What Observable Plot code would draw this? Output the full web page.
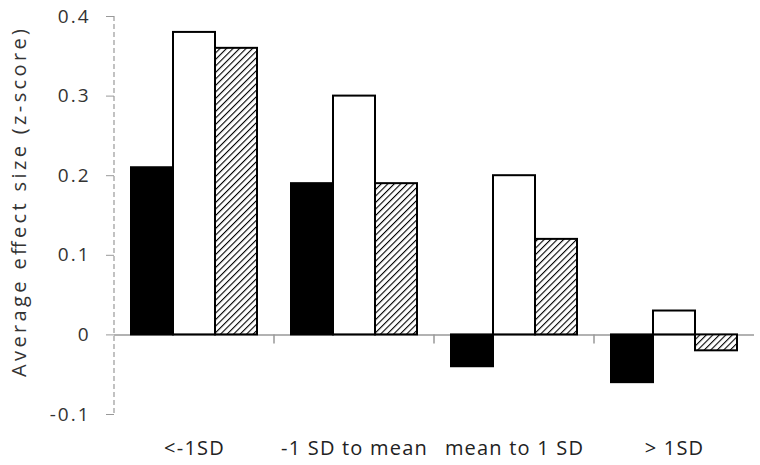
<!DOCTYPE html>
<html>
<head>
<meta charset="utf-8">
<script src="https://cdn.jsdelivr.net/npm/d3@7"></script>
<script src="https://cdn.jsdelivr.net/npm/@observablehq/plot@0.6"></script>
<style>
  html, body { margin: 0; padding: 0; background: #fff; }
  .fxlab text { letter-spacing: 1.2px; }
</style>
</head>
<body>
<div id="chart"></div>
<script>
const categories = ["<-1SD", "-1 SD to mean", "mean to 1 SD", "> 1SD"];
const series = ["Series 1", "Series 2", "Series 3"];
const values1 = [0.21, 0.19, -0.04, -0.06];
const values2 = [0.38, 0.30, 0.20, 0.03];
const values3 = [0.36, 0.19, 0.12, -0.02];
const yTicks = [-0.1, 0, 0.1, 0.2, 0.3, 0.4];
const yLabel = "Average effect size (z-score)";

const allValues = [values1, values2, values3];
const data = [];
categories.forEach((c, i) => {
  series.forEach((s, j) => data.push({cat: c, series: s, value: allValues[j][i]}));
});

const font = "'Open Sans', 'DejaVu Sans', sans-serif";
const fmt = d => d === 0 ? "0" : d.toFixed(1).replace("\u2212", "-");
const tickTexts = new Set(yTicks.map(fmt));

const chart = Plot.plot({
  width: 760,
  height: 465,
  marginLeft: 113,
  marginRight: 5,
  marginTop: 16,
  marginBottom: 51,
  style: {fontFamily: font, fontSize: "18px", color: "#333", background: "#fff"},
  fx: {domain: categories, padding: 0, label: null},
  x: {domain: series, paddingInner: 0, paddingOuter: 0.39, axis: null},
  y: {domain: [-0.1, 0.4], label: null},
  marks: [
    Plot.axisY({
      ticks: yTicks,
      tickFormat: fmt,
      tickSize: 8,
      tickPadding: 16,
      stroke: "#999",
      fill: "#333",
      label: null
    }),
    Plot.axisFx({anchor: "bottom", tickSize: 0, tickPadding: 26, fontSize: 20, fill: "#222", label: null, className: "fxlab"}),
    Plot.ruleY([0], {stroke: "#999", strokeWidth: 1.5}),
    Plot.barY(data.filter(d => d.series === series[0]), {fx: "cat", x: "series", y: "value", fill: "black", stroke: "black", strokeWidth: 2}),
    Plot.barY(data.filter(d => d.series === series[1]), {fx: "cat", x: "series", y: "value", fill: "white", stroke: "black", strokeWidth: 2}),
    Plot.barY(data.filter(d => d.series === series[2]), {fx: "cat", x: "series", y: "value", fill: "url(#hatch)", stroke: "black", strokeWidth: 2})
  ]
});

const svg = d3.select(chart);
const defs = svg.insert("defs", ":first-child");
const pat = defs.append("pattern")
  .attr("id", "hatch")
  .attr("patternUnits", "userSpaceOnUse")
  .attr("width", 4.6).attr("height", 4.6)
  .attr("patternTransform", "rotate(45)");
pat.append("rect").attr("width", 4.6).attr("height", 4.6).attr("fill", "white");
pat.append("line").attr("x1", 0).attr("y1", 0).attr("x2", 0).attr("y2", 4.6)
  .attr("stroke", "black").attr("stroke-width", 2.2);

// enlarge y tick labels
svg.selectAll("text").each(function() {
  const t = d3.select(this);
  if (tickTexts.has(t.text())) {
    t.style("font-size", "19px").style("letter-spacing", "2px");
  }
});

// dashed y axis line and category boundary ticks, positioned via the plot's scales
const fx = chart.scale("fx");
const y = chart.scale("y");
const xLeft = fx.apply(categories[0]);
const g = svg.append("g");
g.append("line")
  .attr("x1", xLeft).attr("x2", xLeft)
  .attr("y1", y.apply(0.4)).attr("y2", y.apply(-0.1))
  .attr("stroke", "#999").attr("stroke-width", 1.2).attr("stroke-dasharray", "5,3");
categories.slice(0, -1).forEach(c => {
  const xb = fx.apply(c) + fx.bandwidth;
  g.append("line")
    .attr("x1", xb).attr("x2", xb)
    .attr("y1", y.apply(0)).attr("y2", y.apply(0) + 9)
    .attr("stroke", "#999").attr("stroke-width", 1.5);
});

// y-axis title
g.append("text")
  .attr("transform", `translate(18,${(y.apply(0.4) + y.apply(-0.1)) / 2 - 12}) rotate(-90)`)
  .attr("text-anchor", "middle")
  .attr("dominant-baseline", "central")
  .style("font-size", "20px")
  .attr("fill", "#333")
  .attr("textLength", 348)
  .attr("lengthAdjust", "spacing")
  .text(yLabel);

document.getElementById("chart").appendChild(chart);
</script>
</body>
</html>
